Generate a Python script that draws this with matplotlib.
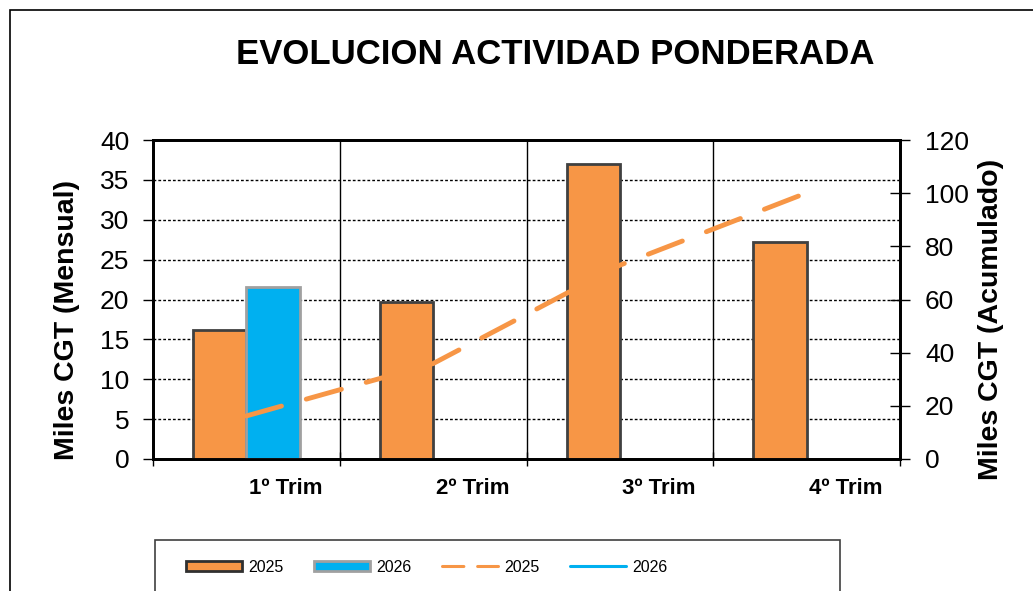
import numpy as np
import matplotlib
matplotlib.use("Agg")
import matplotlib.pyplot as plt
from matplotlib.patches import Rectangle, Patch
from matplotlib.lines import Line2D

plt.rcParams['font.family'] = ['Liberation Sans', 'DejaVu Sans']

# data
quarters = ['1º Trim', '2º Trim', '3º Trim', '4º Trim']
mensual_2025 = [16.2, 19.7, 37.0, 27.2]
mensual_2026 = [21.6, 0, 0, 0]
acum_2025 = [16.2, 35.9, 72.9, 100.1]

orange = '#F79646'
blue = '#00B0F0'

fig = plt.figure(figsize=(10.33, 5.91), dpi=100)
ax = fig.add_axes([153 / 1033, 1 - 459 / 591, 747 / 1033, 319 / 591])
ax2 = ax.twinx()

x = np.arange(len(quarters))
w = 0.285
ax.bar(x - w / 2, mensual_2025, w, color=orange, edgecolor='#404040', linewidth=2, zorder=3)
ax.bar(x[:1] + w / 2, mensual_2026[:1], w, color=blue, edgecolor='#A0A0A0', linewidth=2, zorder=3)

ax2.plot(x, acum_2025, color=orange, lw=3.5, dashes=(7.5, 5.3),
         dash_capstyle='round', zorder=4)

ax.set_xlim(-0.5, 3.5)
ax.set_ylim(0, 40)
ax2.set_ylim(0, 120)
ax.set_yticks(np.arange(0, 41, 5))
ax2.set_yticks(np.arange(0, 121, 20))
ax.set_zorder(ax2.get_zorder() - 1)
ax.patch.set_visible(True)
ax2.patch.set_visible(False)

# grid
for yv in np.arange(5, 40, 5):
    ax.axhline(yv, color='black', lw=1, ls=(0, (2, 1.5)), zorder=1)
for xv in [0.5, 1.5, 2.5]:
    ax.axvline(xv, color='black', lw=1, zorder=1)

# x ticks: boundaries with marks, labels offset
ax.set_xticks([-0.5, 0.5, 1.5, 2.5, 3.5])
ax.set_xticklabels([])
ax.tick_params(axis='x', which='major', direction='inout', length=10, width=1)
ax.set_xticks(x + 0.21, minor=True)
ax.set_xticklabels(quarters, minor=True, fontsize=16, fontweight='bold')
ax.tick_params(axis='x', which='minor', length=0, pad=14)

ax.tick_params(axis='y', direction='out', length=7, width=1, labelsize=19, pad=10)
ax2.tick_params(axis='y', direction='inout', length=14, width=1, labelsize=19, pad=11)

for sp in ax.spines.values():
    sp.set_linewidth(2)
for sp in ax2.spines.values():
    sp.set_linewidth(2)

ax.set_ylabel('Miles CGT (Mensual)', fontsize=20.5, fontweight='bold')
ax2.set_ylabel('Miles CGT (Acumulado)', fontsize=20.5, fontweight='bold')
ax.yaxis.set_label_coords(-73 / 747, 0.436)
ax2.yaxis.set_label_coords(1 + 78 / 747, 0.436)

fig.text(555 / 1033, 1 - 55 / 591, 'EVOLUCION ACTIVIDAD PONDERADA', fontsize=25,
         fontweight='bold', ha='center', va='center')

# outer chart border
fig.patches.append(Rectangle((10 / 1033, -0.1), 1.1, 1 - 10 / 591 + 0.1,
                             transform=fig.transFigure, fill=False,
                             edgecolor='black', lw=1.2))

# legend box (wider than its entries)
fig.patches.append(Rectangle((155 / 1033, -0.1), 685 / 1033, 1 - 540 / 591 + 0.1,
                             transform=fig.transFigure, fill=False,
                             edgecolor='#404040', lw=1.2))

handles = [
    Patch(facecolor=orange, edgecolor='#303030', linewidth=2),
    Patch(facecolor=blue, edgecolor='#A0A0A0', linewidth=2),
    Line2D([], [], color=orange, lw=2.2, dashes=(7, 4.5), dash_capstyle='round'),
    Line2D([], [], color=blue, lw=2.2, solid_capstyle='round'),
]
leg = fig.legend(handles, ['2025', '2026', '2025', '2026'], ncol=4,
                 loc='center', bbox_to_anchor=(427 / 1033, 1 - 567 / 591),
                 fontsize=11.5, frameon=False, handlelength=3.5, handleheight=0.6,
                 handletextpad=0.4, columnspacing=1.9)

fig.savefig('out.png', dpi=100)
